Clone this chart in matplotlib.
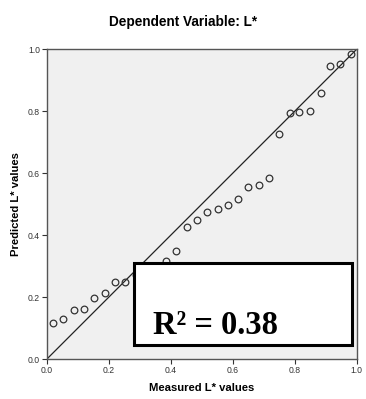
import matplotlib
matplotlib.use('Agg')
import matplotlib.pyplot as plt
from matplotlib.patches import Rectangle

# measured vs predicted L* values
measured = [0.020, 0.053, 0.086, 0.119, 0.153, 0.186, 0.219, 0.253,
            0.286, 0.319, 0.352, 0.384, 0.418, 0.452, 0.485, 0.518,
            0.552, 0.585, 0.617, 0.649, 0.683, 0.717, 0.749, 0.784,
            0.815, 0.848, 0.883, 0.915, 0.947, 0.981]
predicted = [0.116, 0.129, 0.157, 0.163, 0.198, 0.213, 0.248, 0.249,
             0.270, 0.290, 0.300, 0.318, 0.348, 0.425, 0.449, 0.475,
             0.484, 0.497, 0.518, 0.554, 0.560, 0.585, 0.725, 0.794,
             0.797, 0.801, 0.859, 0.944, 0.952, 0.984]
ticks = [0.0, 0.2, 0.4, 0.6, 0.8, 1.0]
r2_label = "R² = 0.38"

plt.rcParams['font.family'] = ['Liberation Sans', 'DejaVu Sans']

fig = plt.figure(figsize=(3.66, 3.99), dpi=100)
ax = fig.add_axes([0.128, 0.100, 0.847, 0.777])
ax.set_facecolor('#f0f0f0')

# reference line y = x
ax.plot([0, 1], [0, 1], color='#222222', lw=0.9, zorder=2)

ax.plot(measured, predicted, 'o', mfc='none', mec='#333333', ms=4.8,
        mew=0.9, zorder=3)

ax.set_xlim(0, 1)
ax.set_ylim(0, 1)
ax.set_xticks(ticks)
ax.set_yticks(ticks)
ax.set_xticklabels(['%.1f' % t for t in ticks])
ax.set_yticklabels(['%.1f' % t for t in ticks])
ax.tick_params(direction='out', length=3.5, width=0.8, labelsize=6.2,
               colors='#333333', pad=1.5)
for s in ax.spines.values():
    s.set_color('#555555')
    s.set_linewidth(1.0)

ax.set_xlabel('Measured L* values', fontsize=8.1, fontweight='bold',
              labelpad=6)
ax.set_ylabel('Predicted L* values', fontsize=8.1, fontweight='bold',
              labelpad=5)
fig.suptitle('Dependent Variable: L*', fontsize=9.8, fontweight='bold',
             y=0.962)

# R-squared box
box = Rectangle((0.28, 0.045), 0.704, 0.265, transform=ax.transAxes,
                facecolor='white', edgecolor='black', lw=2.2, zorder=5,
                clip_on=False)
ax.add_patch(box)
ax.text(0.545, 0.082, r2_label, transform=ax.transAxes, fontsize=23.5,
        fontweight='bold', family='Liberation Serif', ha='center',
        va='baseline', zorder=6)

fig.savefig('out.png', dpi=100)
